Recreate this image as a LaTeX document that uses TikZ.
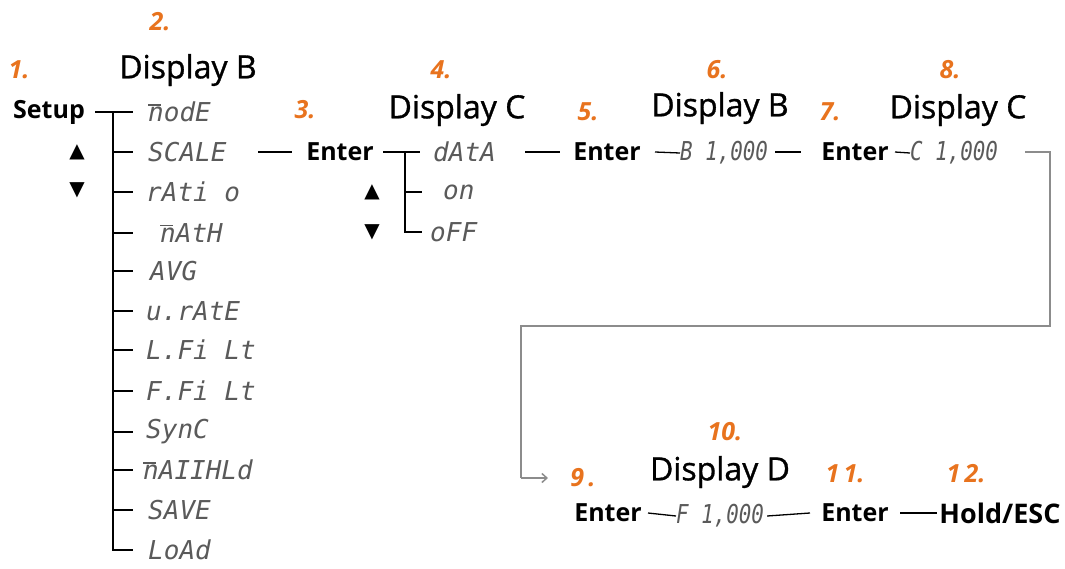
\documentclass[tikz,border=0pt]{standalone}
\usepackage{fontspec}
\usepackage{graphicx}
\setmainfont{Open Sans}
\newfontfamily\dispfont[FakeBold=1]{Open Sans}
\newfontfamily\segfont{DejaVu Sans Mono}
\newfontfamily\symfont{DejaVu Sans}
\usetikzlibrary{arrows.meta,calc}
\definecolor{numor}{HTML}{E8731E}
\definecolor{seggray}{HTML}{5A5A5A}
\definecolor{loopgray}{HTML}{8C8C8C}
\newcommand{\mbar}{\makebox[0pt][l]{\raisebox{0.62em}{\rule{0.5em}{1.4pt}}}}
\newcommand{\narrowtxt}[1]{\scalebox{0.8}[1]{#1}}
\tikzset{
  num/.style={text=numor,font=\fontsize{25}{25}\selectfont\bfseries\itshape,inner sep=0pt},
  disp/.style={font=\fontsize{32}{32}\selectfont\dispfont,inner sep=0pt},
  key/.style={font=\fontsize{25}{25}\selectfont\bfseries,inner sep=0pt},
  seg/.style={text=seggray,font=\fontsize{26}{26}\selectfont\segfont\itshape,inner sep=0pt,anchor=west},
  rdo/.style={text=seggray,font=\fontsize{26}{26}\selectfont\segfont\itshape,inner sep=0pt,anchor=west},
  arr/.style={font=\fontsize{20}{20}\selectfont\symfont,inner sep=0pt},
  ln/.style={line width=1.3pt,black},
  lp/.style={line width=1.5pt,loopgray}
}
\begin{document}
\begin{tikzpicture}[x=1pt,y=-1pt]
\useasboundingbox (0,0) rectangle (1065,568);
% column 1
\node[num] (n1) at (19,70) {1.};
\node[num] (n2) at (160,22) {2.};
\node[disp] (dB1) at (188,70) {Display B};
\node[key] (setup) at (49,112) {Setup};
\node[arr] (up1) at (77,152) {▲};
\node[arr] (dn1) at (77,190) {▼};
\foreach \nm/\y/\x/\t in {i1/112/148/\mbar nodE, i2/152/148/SCALE, i3/192/146/rAti o, i4/233/160/\mbar nAtH, i5/271/150/AVG, i6/311/146/u.rAtE, i7/350/146/L.Fi Lt, i8/391/146/F.Fi Lt, i9/432/146/SynC, i10/470/143/\mbar nAIIHLd, i11/510/148/SAVE, i12/550/148/LoAd}{
  \node[seg] (\nm) at (\x,\y) {\t};
  \coordinate (t\nm) at (113,\y);
}
\draw[ln] (95,112) -- (ti1) -- ++(20,0);
\draw[ln] (ti1) -- (ti12) -- ++(20,0);
\foreach \nm in {i2,i3,i4,i5,i6,i7,i8,i9,i10,i11}{\draw[ln] (t\nm) -- ++(20,0);}
% column 2
\node[num] (n3) at (305,110) {3.};
\node[num] (n4) at (441,70) {4.};
\node[disp] (dC1) at (457,110) {Display C};
\node[key] (ent1) at (340,152) {Enter};
\node[arr] (up2) at (372,192) {▲};
\node[arr] (dn2) at (372,232) {▼};
\draw[ln] (258,152) -- (292,152);
\node[seg] (c1) at (433,152) {dAtA};
\node[seg] (c2) at (443,192) {on};
\node[seg] (c3) at (430,232) {oFF};
\draw[ln] (383,152) -- (420,152);
\draw[ln] (405,152) -- (405,232) -- ++(17,0);
\draw[ln] (405,192) -- ++(17,0);
% top row
\node[num] (n5) at (588,112) {5.};
\node[num] (n6) at (717,70) {6.};
\node[disp] (dB2) at (720,108) {Display B};
\node[key] (ent2) at (607,152) {Enter};
\node[rdo] (rb) at (680,153) {\narrowtxt{B 1,000}};
\node[num] (n7) at (830,112) {7.};
\node[num] (n8) at (950,70) {8.};
\node[disp] (dC2) at (958,110) {Display C};
\node[key] (ent3) at (855,152) {Enter};
\node[rdo] (rc) at (910,153) {\narrowtxt{C 1,000}};
\draw[ln] (525,152) -- (560,152);
\draw[ln] (655,152) -- (rb.west);
\draw[ln] (775,152) -- (801,152);
\draw[ln] (895,152) -- (rc.west);
\coordinate (lc1) at (1050,152);
\coordinate (lc2) at (1050,326);
\coordinate (lc3) at (521,326);
\coordinate (lc4) at (521,478);
\coordinate (lc5) at (548,478);
\draw[lp] (1025,152) -- (lc1) -- (lc2) -- (lc3) -- (lc4);
\draw[lp,-{Straight Barb[length=5pt,width=9pt]}] (lc4) -- (lc5);
% bottom row
\node[num] (n9) at (583,478) {9\,.};
\node[num] (n10) at (725,432) {10.};
\node[disp] (dD) at (720,472) {Display D};
\node[num] (n11) at (845,474) {1\,1.};
\node[num] (n12) at (966,474) {1\,2.};
\node[key] (ent4) at (608,513) {Enter};
\node[rdo] (rf) at (676,516) {\narrowtxt{F 1,000}};
\node[key] (ent5) at (855,513) {Enter};
\node[key,font=\fontsize{27}{27}\selectfont\bfseries] (hold) at (1000,513) {Hold/ESC};
\draw[ln] (648,513) -- (rf.west);
\draw[ln] ($(rf.east)+(3,0)$) -- (810,513);
\draw[ln] (900,513) -- ($(hold.west)+(-2,0)$);
\end{tikzpicture}
\end{document}
